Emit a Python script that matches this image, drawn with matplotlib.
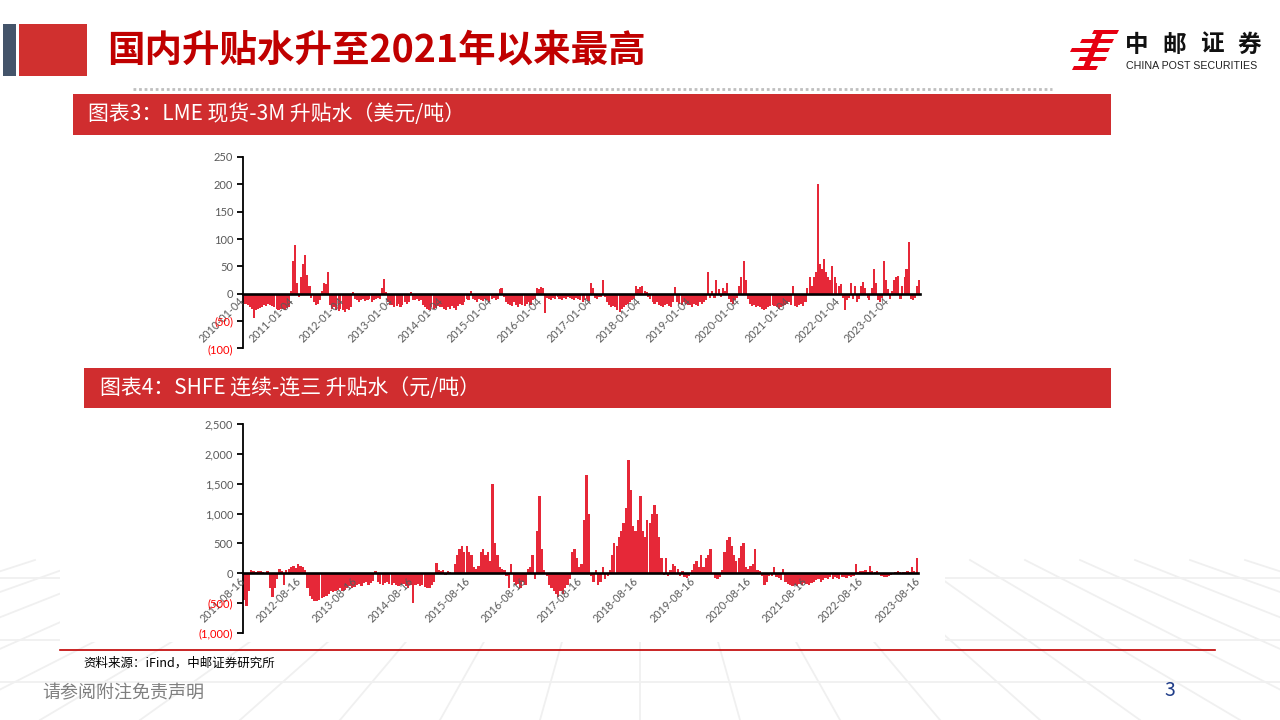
import datetime as dt
import numpy as np
import pandas as pd
import matplotlib
matplotlib.use("Agg")
import matplotlib.pyplot as plt
from matplotlib.patches import Rectangle, Polygon
from matplotlib.lines import Line2D

plt.rcParams['font.family'] = ['Noto Sans CJK SC', 'DejaVu Sans']

# ---------------- data (semi-monthly readings) ----------------
# LME cash-3M spread (USD/t), one list per calendar year, 24 half-months
lme_2010 = [-15, -18, -20, -25, -28, -45, -30, -28, -26, -25, -20, -22, -18, -20, -22, -25, -28, -30, -28, -27, -30, -26, -24, 5]
lme_2011 = [60, 90, 20, -5, 30, 55, 70, 35, 15, -8, -15, -20, -18, -12, 5, 20, 18, 40, -20, -28, -25, -30, -32, -28]
lme_2012 = [-30, -33, -28, -30, -25, 3, -10, -12, -15, -12, -10, -14, -12, -10, -15, -12, -10, -8, -10, 10, 27, 3, -15, -20]
lme_2013 = [-20, -25, -22, -18, -25, -20, -15, -18, -15, 4, -12, -12, -10, -14, -12, -20, -25, -28, -30, -25, -28, -26, -22, -25]
lme_2014 = [-25, -28, -30, -25, -28, -22, -26, -30, -22, -18, -20, -15, -10, -12, 5, -10, -12, -15, -10, -12, -14, -10, -12, -15]
lme_2015 = [-10, -8, -12, -10, 8, 10, -5, -15, -18, -20, -22, -15, -20, -25, -18, -20, -22, -18, -15, -20, -12, -10, 10, 8]
lme_2016 = [12, 10, -35, -8, -10, -12, -8, -10, -6, -10, -12, -8, -10, -5, -8, -10, -12, -8, -10, -12, -15, -12, -10, -14]
lme_2017 = [20, 10, -8, -10, -6, -5, 25, -5, -15, -20, -25, -22, -25, -30, -33, -28, -25, -20, -18, -15, -12, -10, 15, 8]
lme_2018 = [12, 15, 5, 3, -5, -10, -15, -18, -15, -20, -22, -25, -20, -18, -22, -25, -15, 12, -15, -18, -20, -15, -18, -20]
lme_2019 = [-20, -25, -18, -20, -22, -15, -18, -15, -12, 40, -8, 5, -8, 25, 8, -5, 10, 5, 20, -10, -15, -18, -12, -8]
lme_2020 = [15, 30, 60, 25, -10, -18, -22, -20, -25, -22, -25, -28, -30, -27, -25, -22, -20, -22, -25, -28, -25, -22, -20, -18]
lme_2021 = [-15, -20, 15, -22, -25, -20, -18, -22, -15, 10, 30, 15, 30, 40, 200, 55, 45, 64, 40, 30, 25, 50, 30, 20]
lme_2022 = [15, 18, -8, -30, -12, -8, 20, -10, 15, -15, -10, 15, 22, 10, -8, -12, 10, 45, 20, -12, -15, -8, 60, 25]
lme_2023 = [8, -10, 5, 25, 30, 33, -10, 15, 30, 45, 95, -10, -12, -8, 15, 25]

# SHFE continuous - third contract spread (CNY/t), one list per Aug-16 year
shfe_1112 = [-450, -550, -300, 50, 30, 20, 40, 30, 20, 10, 30, -250, -400, -250, -100, 80, 30, -200, 60, 80, 100, 120, 90, 150]
shfe_1213 = [120, 100, 60, -250, -380, -430, -460, -470, -450, -420, -400, -380, -350, -300, -320, -300, -280, -250, -300, -280, -250, -220, -250, -230]
shfe_1314 = [-200, -180, -220, -170, -150, -190, -160, -130, 30, -150, -180, -200, -170, -150, -180, -200, -160, -190, -220, -200, -180, -210, -240, -200]
shfe_1415 = [-500, -200, -180, -220, -200, -230, -250, -240, -200, -150, 180, 50, 40, 60, -30, 30, 20, -20, 150, 300, 400, 450, 350, 450]
shfe_1516 = [350, 300, 100, 80, 120, 350, 400, 300, 350, 200, 1500, 500, 300, 100, 80, 50, -50, -250, 150, -150, -200, -180, -250, -150]
shfe_1617 = [-200, 80, 100, 300, -100, 700, 1300, 400, 50, -50, -200, -250, -300, -350, -400, -300, -350, -250, -200, -100, 350, 400, 250, 100]
shfe_1718 = [150, 900, 1650, 1000, -50, -150, 50, -200, -150, 100, -100, -50, 50, 300, 500, 450, 600, 700, 850, 1100, 1900, 1400, 800, 700]
shfe_1819 = [900, 1300, 700, 600, 900, 850, 1000, 1150, 1000, 600, 250, -30, 250, -50, 50, 150, 120, 80, -50, 30, -60, -80, -40, 60]
shfe_1920 = [150, 200, 100, 300, 100, 250, 300, 400, -20, -80, -100, -60, 50, 350, 550, 600, 450, 300, 200, 250, 450, 500, 100, 80]
shfe_2021 = [120, 150, 400, 50, 40, -50, -200, -150, -50, -40, 100, -60, -80, -120, 80, -150, -180, -200, -220, -200, -210, -180, -200, -160]
shfe_2122 = [-180, -200, -170, -150, -120, -100, -140, -110, -80, -100, -70, -90, -60, -80, -100, -70, -60, -80, -50, -70, -40, 150, 20, 30]
shfe_2223 = [30, 60, 20, 120, 30, 20, 40, 10, -40, -60, -70, -50, -30, 10, 20, 30, 15, 25, 20, 30, 15, 110, 40, 250]

lme_ticks = ['2010-01-04', '2011-01-04', '2012-01-04', '2013-01-04', '2014-01-04', '2015-01-04', '2016-01-04',
             '2017-01-04', '2018-01-04', '2019-01-04', '2020-01-04', '2021-01-04', '2022-01-04', '2023-01-04']
shfe_ticks = ['2011-08-16', '2012-08-16', '2013-08-16', '2014-08-16', '2015-08-16', '2016-08-16', '2017-08-16',
              '2018-08-16', '2019-08-16', '2020-08-16', '2021-08-16', '2022-08-16', '2023-08-16']
lme_yticks = [-100, -50, 0, 50, 100, 150, 200, 250]
shfe_yticks = [-1000, -500, 0, 500, 1000, 1500, 2000, 2500]

title = '国内升贴水升至2021年以来最高'
caption1 = '图表3：LME 现货-3M 升贴水（美元/吨）'
caption2 = '图表4：SHFE 连续-连三 升贴水（元/吨）'
source = '资料来源：iFind，中邮证券研究所'
disclaimer = '请参阅附注免责声明'

lme_vals = (lme_2010 + lme_2011 + lme_2012 + lme_2013 + lme_2014 + lme_2015 + lme_2016 + lme_2017
            + lme_2018 + lme_2019 + lme_2020 + lme_2021 + lme_2022 + lme_2023)
shfe_vals = (shfe_1112 + shfe_1213 + shfe_1314 + shfe_1415 + shfe_1516 + shfe_1617 + shfe_1718
             + shfe_1819 + shfe_1920 + shfe_2021 + shfe_2122 + shfe_2223)
lme_dates = pd.date_range('2010-01-01', periods=len(lme_vals), freq='SMS').to_pydatetime()
shfe_dates = pd.date_range('2011-08-15', periods=len(shfe_vals), freq='SMS').to_pydatetime()

# ---------------- figure ----------------
W, H = 1280, 720
def fx(x): return x / W
def fy(y): return 1 - y / H

fig = plt.figure(figsize=(12.8, 7.2), dpi=100)
fig.patch.set_facecolor('white')

def rect(x0, y0, x1, y1, color, z=1):
    fig.add_artist(Rectangle((fx(x0), fy(y1)), (x1 - x0) / W, (y1 - y0) / H, transform=fig.transFigure,
                             facecolor=color, edgecolor='none', zorder=z))

def line(xs, ys, color, lw, z=1, ls='-'):
    fig.add_artist(Line2D([fx(x) for x in xs], [fy(y) for y in ys], transform=fig.transFigure,
                          color=color, lw=lw, zorder=z, linestyle=ls))

# faint perspective floor in the background
for yy in (578, 640, 682):
    line([0, 1280], [yy, yy], '#f0f0f0', 1.3, z=0)
for k in range(-12, 13):
    line([640 + k * 55, 640 + k * 100], [560, 720], '#f0f0f0', 1.3, z=0)
rect(60, 410, 945, 642, 'white', z=0.5)

# header
rect(3, 24, 16, 76, '#44546a', z=2)
rect(19, 24, 87, 76, '#d0302f', z=2)
fig.text(fx(107), fy(50), title, fontsize=27, fontweight='bold', color='#c00000', va='center', ha='left', zorder=3)
line([133, 1052], [89, 89], '#bfbfbf', 2.0, z=2, ls=(0, (1, 1)))

# logo
logo_red = '#e60012'
for (x0, x1, yy, sk) in [(1092, 1117, 30, 2), (1080, 1112, 39, 2), (1070, 1108, 48, 2), (1078, 1105, 57, 2), (1072, 1096, 66, 2)]:
    fig.add_artist(Polygon([(fx(x0 + sk), fy(yy)), (fx(x1 + sk), fy(yy)), (fx(x1), fy(yy + 4)), (fx(x0), fy(yy + 4))],
                           closed=True, transform=fig.transFigure, facecolor=logo_red, edgecolor='none', zorder=3))
fig.add_artist(Polygon([(fx(1098), fy(30)), (fx(1104), fy(30)), (fx(1088), fy(70)), (fx(1082), fy(70))],
                       closed=True, transform=fig.transFigure, facecolor=logo_red, edgecolor='none', zorder=3))
for i, ch in enumerate('中邮证券'):
    fig.text(fx(1137 + i * 37.3), fy(45), ch, fontsize=17, fontweight='bold', color='#111111',
             ha='center', va='center', zorder=3)
fig.text(fx(1126), fy(66), 'CHINA POST SECURITIES', fontsize=7.7, family='Liberation Sans', color='#222222',
         ha='left', va='center', zorder=3)

# caption bands
rect(73, 94, 1111, 135, '#d02d2f', z=2)
fig.text(fx(88), fy(114.5), caption1, fontsize=15, color='white', va='center', ha='left', zorder=3)
rect(84, 368, 1111, 408, '#d02d2f', z=2)
fig.text(fx(100), fy(388), caption2, fontsize=15, color='white', va='center', ha='left', zorder=3)

# footer
line([60, 1215], [650, 650], '#c00000', 1.2, z=2)
fig.text(fx(83), fy(663), source, fontsize=9, color='black', va='center', ha='left', zorder=3)
fig.text(fx(42), fy(693), disclaimer, fontsize=13, color='#7f7f7f', va='center', ha='left', zorder=3)
fig.text(fx(1170), fy(690), '3', fontsize=14, color='#1f3c88', va='center', ha='center', zorder=3)

BAR = '#e62838'
GRAY = '#595959'

def fmt(v):
    return f'({abs(v):,.0f})' if v < 0 else f'{v:,.0f}'

def draw_panel(rect_px, dates, vals, yticks, ticks, xlim):
    x0, y0, x1, y1 = rect_px
    ax = fig.add_axes([fx(x0), fy(y1), (x1 - x0) / W, (y1 - y0) / H], zorder=3)
    ax.patch.set_alpha(0)
    ax.bar(dates, vals, width=dt.timedelta(days=15.4), align='edge', color=BAR, linewidth=0, zorder=1)
    ax.set_xlim(pd.Timestamp(xlim[0]).to_pydatetime(), pd.Timestamp(xlim[1]).to_pydatetime())
    ax.set_ylim(yticks[0], yticks[-1])
    for s in ('top', 'right'):
        ax.spines[s].set_visible(False)
    ax.spines['bottom'].set_position(('data', 0))
    ax.spines['bottom'].set_linewidth(1.9)
    ax.spines['bottom'].set_color('black')
    ax.spines['left'].set_linewidth(1.3)
    ax.spines['left'].set_color('black')
    ax.xaxis.set_zorder(4)
    ax.yaxis.set_zorder(4)
    ax.tick_params(axis='x', length=0, pad=4, labelsize=7.8, labelfontfamily='Lato', labelcolor=GRAY)
    ax.tick_params(axis='y', length=4, width=1.3, direction='out', pad=3, labelsize=8, labelfontfamily='Lato')
    ax.minorticks_off()
    ax.set_yticks(yticks)
    ax.set_yticklabels([fmt(v) for v in yticks], fontfamily='Lato', fontsize=8)
    for lab, v in zip(ax.get_yticklabels(), yticks):
        lab.set_color('#ff0000' if v < 0 else GRAY)
    tick_dt = [pd.Timestamp(t).to_pydatetime() for t in ticks]
    ax.set_xticks(tick_dt)
    ax.set_xticklabels(ticks, rotation=45, ha='right', va='center', rotation_mode='anchor',
                       fontfamily='Lato', fontsize=7.8, color=GRAY)
    return ax

ax1 = draw_panel((243, 157, 920, 348.5), lme_dates, lme_vals, lme_yticks, lme_ticks,
                 ('2010-01-04', '2023-08-30'))
ax2 = draw_panel((243, 424, 918, 633), shfe_dates, shfe_vals, shfe_yticks, shfe_ticks,
                 ('2011-08-16', '2023-08-16'))

fig.savefig('out.png', dpi=100, facecolor='white')
